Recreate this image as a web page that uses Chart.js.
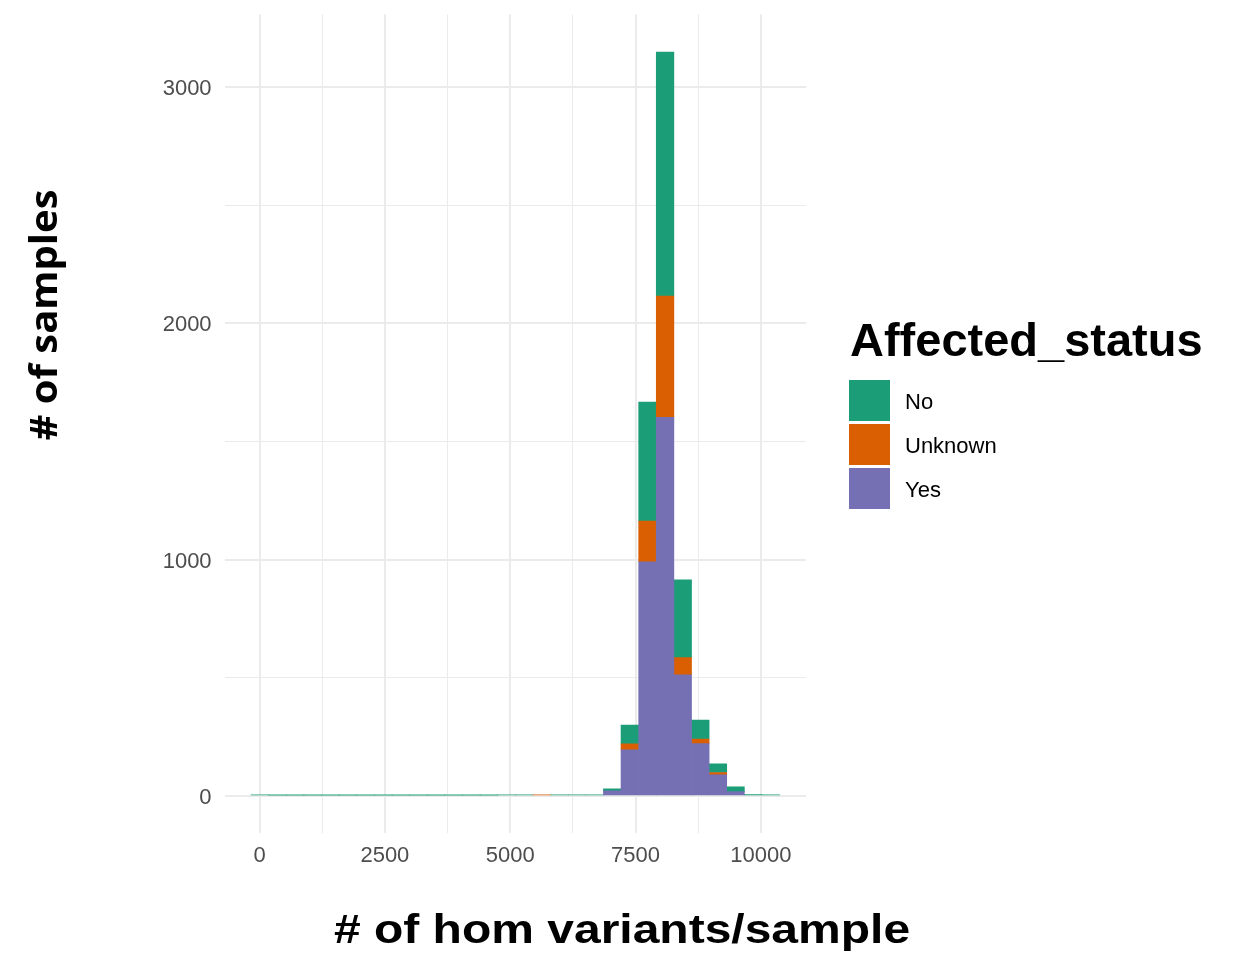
<!DOCTYPE html>
<html>
<head>
<meta charset="utf-8">
<script src="https://cdn.jsdelivr.net/npm/chart.js@4"></script>
<style>
    html, body { margin: 0; padding: 0; background: #ffffff; }
    #wrap { width: 1238px; height: 955px; position: relative; }
</style>
</head>
<body>
<div id="wrap"><canvas id="histChart"></canvas></div>
<script>
// Histogram bin centres (# of hom variants/sample)
const BIN_CENTERS = [7, 358, 710, 1061, 1413, 1764, 2115, 2467, 2818, 3170,
    3521, 3872, 4224, 4575, 4927, 5278, 5629, 5981, 6332, 6684,
    7035, 7386, 7738, 8089, 8441, 8792, 9143, 9495, 9846, 10198];

// Counts per bin
const COUNTS_NO = [4, 3, 3, 3, 3, 3, 3, 3, 3, 3,
    3, 3, 3, 3, 4, 4, 0, 4, 4, 4,
    9, 80, 504, 1033, 329, 80, 37, 20, 6, 4];
const COUNTS_UNKNOWN = [0, 0, 0, 0, 0, 0, 0, 0, 0, 0,
    0, 0, 0, 0, 0, 0, 4, 0, 0, 0,
    0, 25, 172, 513, 73, 20, 10, 0, 0, 0];
const COUNTS_YES = [0, 0, 0, 0, 0, 0, 0, 0, 0, 0,
    0, 0, 0, 0, 0, 0, 0, 0, 0, 0,
    21, 195, 991, 1602, 512, 221, 89, 18, 0, 0];

const STATUS_LABELS = ['No', 'Unknown', 'Yes'];

const X_TICKS = [0, 1250, 2500, 3750, 5000, 6250, 7500, 8750, 10000];
const Y_TICKS = [0, 500, 1000, 1500, 2000, 2500, 3000];

// Dark2 palette
const COLORS = {
    No: '#1B9E77',
    Unknown: '#D95F02',
    Yes: '#7570B3'
};

const GRID = '#EBEBEB';
const TICK_COLOR = '#4D4D4D';

// empty bins are left out so no sliver is drawn for them
function toPoints(counts) {
    return counts.map((c, i) => ({ x: BIN_CENTERS[i], y: c === 0 ? null : c }));
}

function noScalePadding(scale) {
    scale.paddingTop = 0;
    scale.paddingBottom = 0;
    scale.paddingLeft = 0;
    scale.paddingRight = 0;
}

/**
 * Axis titles and legend drawn in ggplot style
 */
const textPlugin = {
    id: 'ggText',
    afterDraw(chart) {
        const ctx = chart.ctx;
        ctx.save();
        ctx.fillStyle = '#000000';
        ctx.textAlign = 'center';
        ctx.textBaseline = 'alphabetic';

        // x title (reference type is wider than Liberation, so stretch it)
        ctx.save();
        ctx.translate(622, 943);
        ctx.scale(1.2, 1);
        ctx.font = 'bold 40px "Liberation Sans", Arial, sans-serif';
        ctx.fillText('# of hom variants/sample', 0, 0);
        ctx.restore();

        // y title
        ctx.save();
        ctx.translate(57, 315);
        ctx.rotate(-Math.PI / 2);
        ctx.scale(1.08, 1);
        ctx.font = 'bold 37px "Open Sans", sans-serif';
        ctx.fillText('# of samples', 0, 0);
        ctx.restore();

        // legend
        ctx.textAlign = 'left';
        ctx.font = 'bold 47px "Liberation Sans", Arial, sans-serif';
        ctx.fillText('Affected_status', 850, 356);

        ctx.font = '22px "Liberation Sans", Arial, sans-serif';
        STATUS_LABELS.forEach((label, i) => {
            const top = 380 + i * 44;
            ctx.fillStyle = COLORS[label];
            ctx.fillRect(849, top, 41, 41);
            ctx.fillStyle = '#000000';
            ctx.fillText(label, 905, top + 29);
        });
        ctx.restore();
    }
};

function createChart() {
    const ctx = document.getElementById('histChart');

    // stacking order: first dataset sits at the bottom
    const datasets = [
        { label: 'Yes', data: toPoints(COUNTS_YES), backgroundColor: COLORS.Yes },
        { label: 'Unknown', data: toPoints(COUNTS_UNKNOWN), backgroundColor: COLORS.Unknown },
        { label: 'No', data: toPoints(COUNTS_NO), backgroundColor: COLORS.No }
    ].map(ds => Object.assign(ds, {
        borderWidth: 0,
        barPercentage: 1.0,
        categoryPercentage: 1.0
    }));

    return new Chart(ctx, {
        type: 'bar',
        data: { datasets: datasets },
        options: {
            responsive: true,
            maintainAspectRatio: false,
            animation: false,
            layout: {
                autoPadding: false,
                padding: { left: 0, top: 14.5, right: 432, bottom: 0 }
            },
            plugins: {
                legend: { display: false },
                tooltip: { enabled: false }
            },
            scales: {
                x: {
                    type: 'linear',
                    stacked: true,
                    offset: false,
                    min: -697,
                    max: 10900,
                    afterBuildTicks: scale => {
                        scale.ticks = X_TICKS.map(v => ({ value: v }));
                    },
                    afterFit: scale => {
                        scale.height = 122;
                        noScalePadding(scale);
                    },
                    border: { display: false },
                    grid: {
                        offset: false,
                        drawTicks: false,
                        color: GRID,
                        lineWidth: c => (c.tick && c.tick.value % 2500 === 0) ? 2 : 1
                    },
                    ticks: {
                        autoSkip: false,
                        maxRotation: 0,
                        padding: 10,
                        color: TICK_COLOR,
                        font: { family: '"Liberation Sans", Arial, sans-serif', size: 22 },
                        callback: v => (v % 2500 === 0 ? String(v) : '')
                    }
                },
                y: {
                    stacked: true,
                    min: -157,
                    max: 3307,
                    afterBuildTicks: scale => {
                        scale.ticks = Y_TICKS.map(v => ({ value: v }));
                    },
                    afterFit: scale => {
                        scale.width = 224.6;
                        noScalePadding(scale);
                    },
                    border: { display: false },
                    grid: {
                        drawTicks: false,
                        color: GRID,
                        lineWidth: c => (c.tick && c.tick.value % 1000 === 0) ? 2 : 1
                    },
                    ticks: {
                        autoSkip: false,
                        padding: 13,
                        labelOffset: 2,
                        color: TICK_COLOR,
                        font: { family: '"Liberation Sans", Arial, sans-serif', size: 22 },
                        callback: v => (v % 1000 === 0 ? String(v) : '')
                    }
                }
            }
        },
        plugins: [textPlugin]
    });
}

createChart();
</script>
</body>
</html>
